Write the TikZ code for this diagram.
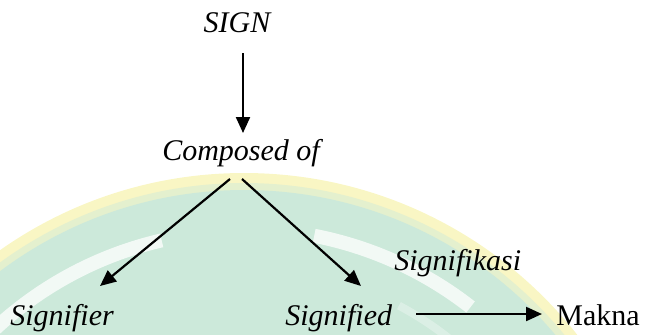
\documentclass[tikz,border=0pt]{standalone}
\usepackage{fontspec}
\newfontfamily\tnr{Liberation Serif}
\usetikzlibrary{arrows.meta}
\definecolor{wmyellow}{RGB}{249,246,196}
\definecolor{wmmid}{RGB}{228,240,206}
\definecolor{wmgreen}{RGB}{204,233,218}
\begin{document}
\begin{tikzpicture}[x=0.5pt,y=-0.5pt,
  lbl/.style={inner sep=0pt, font=\tnr\fontsize{15}{18}\selectfont\itshape},
  up/.style={inner sep=0pt, font=\tnr\fontsize{15}{18}\selectfont},
  arr/.style={line width=1.1pt, -{Triangle[length=8pt,width=7pt]}},
  band/.style={white, line width=7pt, opacity=0.75}]
\useasboundingbox (0,0) rectangle (648,334);
% watermark
\begin{scope}
\clip (0,0) rectangle (648,334);
\fill[wmyellow] (244,597) circle[radius=424];
\fill[wmmid] (244,597) circle[radius=414];
\fill[wmgreen] (244,597) circle[radius=407];
\draw[band] ([shift={(-145:366)}]244,597) arc[start angle=-145, end angle=-103, radius=366];
\draw[band] ([shift={(-79:368)}]244,597) arc[start angle=-79, end angle=-52, radius=368];
\draw[white, line width=4pt, opacity=0.3] ([shift={(-62:330)}]244,597) arc[start angle=-62, end angle=-42, radius=330];
\end{scope}
% labels
\node[lbl, anchor=base] (sign) at (237,32) {SIGN};
\node[lbl, anchor=base] (comp) at (241,160) {Composed of};
\node[lbl, anchor=base west] (sfr) at (10,325) {Signifier};
\node[lbl, anchor=base west] (sfd) at (285,325) {Signified};
\node[lbl, anchor=base west] (sfk) at (394,270) {Signifikasi};
\node[up, anchor=base west] (makna) at (556,325) {Makna};
% connector ends
\coordinate (s1) at (243,53);
\coordinate (c1) at (243,133);
\coordinate (cl) at (230,179);
\coordinate (cr) at (242,179);
\coordinate (fl) at (100,286);
\coordinate (fr) at (361,286);
\coordinate (h1) at (416,314);
\coordinate (h2) at (542,314);
\draw[arr] (s1) -- (c1);
\draw[arr] (cl) -- (fl);
\draw[arr] (cr) -- (fr);
\draw[arr] (h1) -- (h2);
\end{tikzpicture}
\end{document}
